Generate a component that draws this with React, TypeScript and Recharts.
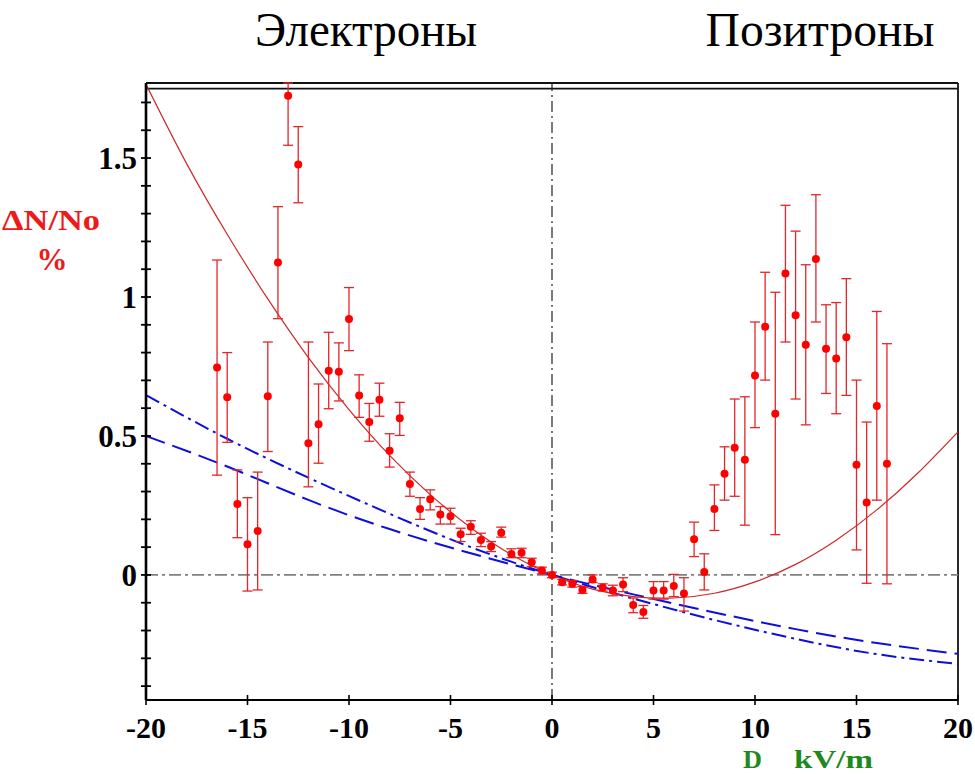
import React from 'react';
import {
  ComposedChart,
  Line,
  Scatter,
  ErrorBar,
  XAxis,
  YAxis,
  ReferenceLine,
} from 'recharts';

// ---- measured asymmetry ΔN/No (%) vs field D (kV/m) ----
const electronD = [
  -16.5, -16, -15.5, -15, -14.5, -14, -13.5, -13, -12.5, -12, -11.5, -11, -10.5, -10, -9.5, -9,
  -8.5, -8, -7.5, -7, -6.5, -6, -5.5, -5, -4.5, -4, -3.5, -3, -2.5, -2, -1.5, -1, -0.5, 0,
];
const electronDN = [
  0.746, 0.639, 0.255, 0.11, 0.158, 0.643, 1.124, 1.724, 1.477, 0.474, 0.542, 0.735, 0.731, 0.921,
  0.646, 0.55, 0.63, 0.447, 0.564, 0.327, 0.237, 0.272, 0.217, 0.211, 0.146, 0.173, 0.126, 0.102,
  0.152, 0.075, 0.08, 0.046, 0.016, 0.0,
];
const electronLow = [
  0.359, 0.477, 0.134, -0.058, -0.054, 0.444, 0.922, 1.546, 1.339, 0.317, 0.402, 0.598, 0.626,
  0.807, 0.567, 0.481, 0.571, 0.388, 0.502, 0.283, 0.2, 0.234, 0.183, 0.183, 0.12, 0.146, 0.102,
  0.084, 0.136, 0.062, 0.062, 0.03, 0.004, -0.01,
];
const electronHigh = [
  1.133, 0.8, 0.378, 0.278, 0.37, 0.838, 1.325, 1.77, 1.613, 0.838, 0.687, 0.873, 0.835, 1.034,
  0.72, 0.617, 0.69, 0.508, 0.621, 0.37, 0.278, 0.306, 0.246, 0.24, 0.168, 0.195, 0.15, 0.12,
  0.172, 0.094, 0.096, 0.06, 0.028, 0.01,
];

const positronD = [
  0.5, 1, 1.5, 2, 2.5, 3, 3.5, 4, 4.5, 5, 5.5, 6, 6.5, 7, 7.5, 8, 8.5, 9, 9.5, 10, 10.5, 11, 11.5,
  12, 12.5, 13, 13.5, 14, 14.5, 15, 15.5, 16, 16.5,
];
const positronDN = [
  -0.026, -0.032, -0.054, -0.016, -0.045, -0.056, -0.034, -0.108, -0.133, -0.056, -0.056, -0.04,
  -0.067, 0.128, 0.011, 0.237, 0.364, 0.458, 0.414, 0.718, 0.893, 0.58, 1.085, 0.934, 0.828, 1.137,
  0.814, 0.779, 0.855, 0.396, 0.261, 0.608, 0.4,
];
const positronLow = [
  -0.036, -0.044, -0.066, -0.027, -0.058, -0.075, -0.06, -0.136, -0.156, -0.087, -0.087, -0.078,
  -0.13, 0.066, -0.054, 0.16, 0.269, 0.283, 0.179, 0.53, 0.701, 0.145, 0.838, 0.633, 0.54, 0.91,
  0.653, 0.58, 0.646, 0.09, -0.03, 0.269, -0.032,
];
const positronHigh = [
  -0.016, -0.02, -0.042, 0.0, -0.032, -0.037, -0.01, -0.083, -0.11, -0.024, -0.024, 0.002, -0.01,
  0.19, 0.076, 0.324, 0.461, 0.633, 0.641, 0.91, 1.089, 1.017, 1.33, 1.237, 1.116, 1.368, 0.972,
  0.98, 1.066, 0.701, 0.55, 0.948, 0.832,
];

// ---- fitted curve (red) ----
const fitD = [-20, -18, -16, -14, -12, -10, -8, -6, -4, -2, 0, 2, 4, 6, 8, 10, 12, 14, 16, 18, 20];
const fitDN = [
  1.765, 1.48, 1.226, 0.993, 0.782, 0.595, 0.43, 0.289, 0.17, 0.073, 0, -0.051, -0.078, -0.083,
  -0.066, -0.025, 0.038, 0.125, 0.234, 0.365, 0.515,
];

// ---- model curves (blue) ----
const modelD = [-20, -16, -12, -8, -4, 0, 4, 8, 12, 16, 20];
const modelDashed = [0.5, 0.39, 0.27, 0.165, 0.078, 0, -0.07, -0.135, -0.195, -0.245, -0.284];
const modelDashDot = [0.647, 0.49, 0.35, 0.22, 0.1, 0, -0.085, -0.162, -0.23, -0.285, -0.32];

// ---- axes ----
const xTicks = [-20, -15, -10, -5, 0, 5, 10, 15, 20];
const yTicks = [
  -0.4, -0.3, -0.2, -0.1, 0, 0.1, 0.2, 0.3, 0.4, 0.5, 0.6, 0.7, 0.8, 0.9, 1, 1.1, 1.2, 1.3, 1.4,
  1.5, 1.6, 1.7,
];
const yLabelled = [0, 0.5, 1, 1.5];
const xDomain: [number, number] = [-20, 20];
const yDomain: [number, number] = [-0.45, 1.77];

const W = 975;
const H = 774;
const PLOT_LEFT = 146;
const PLOT_RIGHT = 958;
const PLOT_TOP = 83;
const PLOT_BOTTOM = 700;
const Y_AXIS_W = 60;
const X_AXIS_H = 50;

const SERIF = '"Liberation Serif", "Times New Roman", serif';
const RED = '#ff0000';
const BAR_RED = '#e2262a';
const BLUE = '#0f0fdc';

const toPoints = (d: number[], v: number[], lo: number[], hi: number[]) =>
  d.map((x, i) => ({ x, y: v[i], err: [v[i] - lo[i], hi[i] - v[i]] }));
const toLine = (d: number[], v: number[]) => d.map((x, i) => ({ x, y: v[i] }));

const electrons = toPoints(electronD, electronDN, electronLow, electronHigh);
const positrons = toPoints(positronD, positronDN, positronLow, positronHigh);
const fitLine = toLine(fitD, fitDN);
const dashedLine = toLine(modelD, modelDashed);
const dashDotLine = toLine(modelD, modelDashDot);

const fmt = (v: number) => String(Math.round(v * 10) / 10);

const YTick = (props: any) => {
  const { x, y, payload } = props;
  const v = payload.value as number;
  const labelled = yLabelled.some((l) => Math.abs(l - v) < 1e-6);
  return (
    <g>
      <line x1={x - 5} x2={x + 5} y1={y} y2={y} stroke="#000" strokeWidth={1.8} />
      {labelled && (
        <text
          x={x - 9}
          y={y}
          dy="0.35em"
          textAnchor="end"
          fontFamily={SERIF}
          fontWeight="bold"
          fontSize={31}
          fill="#000"
        >
          {fmt(v)}
        </text>
      )}
    </g>
  );
};

const XTick = (props: any) => {
  const { x, y, payload } = props;
  return (
    <g>
      <line x1={x} x2={x} y1={y - 5} y2={y + 5} stroke="#000" strokeWidth={1.6} />
      <text
        x={x}
        y={y + 38}
        textAnchor="middle"
        fontFamily={SERIF}
        fontWeight="bold"
        fontSize={30}
        fill="#000"
      >
        {String(payload.value)}
      </text>
    </g>
  );
};

const Dot = (p: any) => <circle cx={p.cx} cy={p.cy} r={4} fill={RED} />;

export default function App() {
  return (
    <div style={{ position: 'absolute', left: 0, top: 0, width: W, height: H, background: '#fff' }}>
      <ComposedChart
        width={W}
        height={H}
        margin={{
          top: PLOT_TOP,
          left: PLOT_LEFT - Y_AXIS_W,
          right: W - PLOT_RIGHT,
          bottom: H - PLOT_BOTTOM - X_AXIS_H,
        }}
      >
        <XAxis
          type="number"
          dataKey="x"
          domain={xDomain}
          ticks={xTicks}
          interval={0}
          allowDataOverflow
          height={X_AXIS_H}
          tickSize={0}
          tickMargin={0}
          tickLine={false}
          tick={<XTick />}
          axisLine={{ stroke: '#000', strokeWidth: 2 }}
        />
        <YAxis
          type="number"
          domain={yDomain}
          ticks={yTicks}
          interval={0}
          allowDataOverflow
          width={Y_AXIS_W}
          tickSize={0}
          tickMargin={0}
          tickLine={false}
          tick={<YTick />}
          axisLine={{ stroke: '#000', strokeWidth: 2.6 }}
        />
        {/* frame: double line on top, single on the right */}
        <ReferenceLine y={1.77} stroke="#111" strokeWidth={1.8} />
        <ReferenceLine y={1.75} stroke="#111" strokeWidth={1.8} />
        <ReferenceLine x={20} stroke="#111" strokeWidth={1.8} />
        {/* zero guides */}
        <ReferenceLine y={0} stroke="#808080" strokeWidth={1.8} strokeDasharray="12 4 3 4" />
        <ReferenceLine x={0} stroke="#222" strokeWidth={1.2} strokeDasharray="11 4 2 4" />

        <Line
          data={dashedLine}
          dataKey="y"
          type="natural"
          stroke={BLUE}
          strokeWidth={2}
          strokeDasharray="20 8"
          dot={false}
          activeDot={false}
          isAnimationActive={false}
        />
        <Line
          data={dashDotLine}
          dataKey="y"
          type="natural"
          stroke={BLUE}
          strokeWidth={2}
          strokeDasharray="15 5 3 5"
          dot={false}
          activeDot={false}
          isAnimationActive={false}
        />
        <Line
          data={fitLine}
          dataKey="y"
          type="natural"
          stroke="#d02828"
          strokeWidth={1.2}
          dot={false}
          activeDot={false}
          isAnimationActive={false}
        />
        <Scatter data={electrons} dataKey="y" shape={<Dot />} isAnimationActive={false}>
          <ErrorBar dataKey="err" direction="y" width={5} stroke={BAR_RED} strokeWidth={1.3} />
        </Scatter>
        <Scatter data={positrons} dataKey="y" shape={<Dot />} isAnimationActive={false}>
          <ErrorBar dataKey="err" direction="y" width={5} stroke={BAR_RED} strokeWidth={1.3} />
        </Scatter>
      </ComposedChart>

      <svg
        width={W}
        height={H}
        style={{ position: 'absolute', left: 0, top: 0, pointerEvents: 'none' }}
      >
        <text
          x={366}
          y={46}
          textAnchor="middle"
          fontFamily={SERIF}
          fontSize={48}
          fill="#000"
          textLength={222}
          lengthAdjust="spacingAndGlyphs"
        >
          Электроны
        </text>
        <text
          x={820}
          y={46}
          textAnchor="middle"
          fontFamily={SERIF}
          fontSize={48}
          fill="#000"
          textLength={229}
          lengthAdjust="spacingAndGlyphs"
        >
          Позитроны
        </text>
        <text
          x={51}
          y={230}
          textAnchor="middle"
          fontFamily={SERIF}
          fontWeight="bold"
          fontSize={30}
          fill="#f01818"
          textLength={98}
          lengthAdjust="spacingAndGlyphs"
        >
          ΔN/No
        </text>
        <text
          x={52}
          y={270}
          textAnchor="middle"
          fontFamily={SERIF}
          fontWeight="bold"
          fontSize={31}
          fill="#f01818"
        >
          %
        </text>
        <text
          x={743}
          y={768}
          fontFamily={SERIF}
          fontWeight="bold"
          fontSize={26}
          fill="#1e8a1e"
          textLength={19}
          lengthAdjust="spacingAndGlyphs"
        >
          D
        </text>
        <text
          x={794}
          y={768}
          fontFamily={SERIF}
          fontWeight="bold"
          fontSize={26}
          fill="#1e8a1e"
          textLength={79}
          lengthAdjust="spacingAndGlyphs"
        >
          kV/m
        </text>
      </svg>
    </div>
  );
}
